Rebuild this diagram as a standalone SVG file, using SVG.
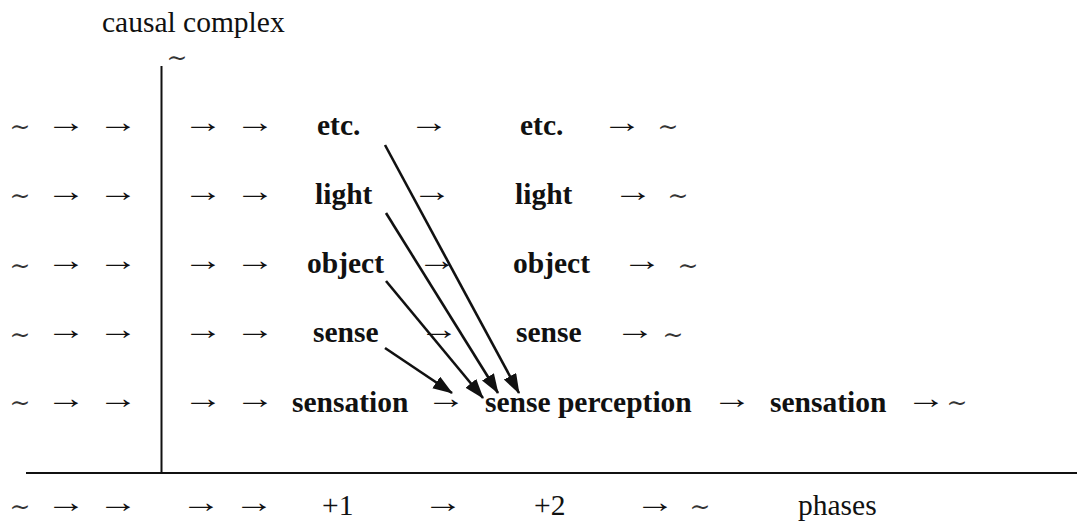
<svg xmlns="http://www.w3.org/2000/svg" width="1077" height="521" viewBox="0 0 1077 521">
<style>
.w{font-family:"Liberation Serif","Times New Roman",serif;font-weight:bold;font-size:29.5px;fill:#111}
.r{font-family:"Liberation Serif","Times New Roman",serif;font-size:29.5px;fill:#111}
.a{font-family:"Liberation Serif","DejaVu Serif",serif;font-size:29.5px;fill:#111;text-anchor:middle}
.t{font-family:"DejaVu Serif",serif;font-size:25px;fill:#333;text-anchor:middle}
.ln{stroke:#111;stroke-width:2;fill:none}
.c{stroke:#111;stroke-width:2.6;fill:none;marker-end:url(#ah)}
</style>
<defs>
<marker id="ah" markerUnits="userSpaceOnUse" markerWidth="22" markerHeight="16" refX="19" refY="7" orient="auto">
<path d="M0,0 L20,7 L0,14 z" fill="#111"/>
</marker>
</defs>
<g id="frame">
<line class="ln" x1="161.5" y1="66" x2="161.5" y2="473"/>
<line class="ln" x1="26" y1="473" x2="1077" y2="473"/>
<text class="r" x="102" y="32">causal complex</text>
<text class="t" x="177" y="66">∼</text>
</g>
<g id="row-etc">
<text class="t" x="20" y="135">∼</text>
<text class="a" x="66" y="132" textLength="40" lengthAdjust="spacingAndGlyphs">→</text>
<text class="a" x="118" y="132" textLength="40" lengthAdjust="spacingAndGlyphs">→</text>
<text class="a" x="203" y="132" textLength="40" lengthAdjust="spacingAndGlyphs">→</text>
<text class="a" x="255" y="132" textLength="40" lengthAdjust="spacingAndGlyphs">→</text>
<text class="w" x="317" y="135">etc.</text>
<text class="a" x="429" y="132" textLength="40" lengthAdjust="spacingAndGlyphs">→</text>
<text class="w" x="520" y="135">etc.</text>
<text class="a" x="622" y="132" textLength="40" lengthAdjust="spacingAndGlyphs">→</text>
<text class="t" x="668" y="135">∼</text>
</g>
<g id="row-light">
<text class="t" x="20" y="204">∼</text>
<text class="a" x="66" y="201" textLength="40" lengthAdjust="spacingAndGlyphs">→</text>
<text class="a" x="118" y="201" textLength="40" lengthAdjust="spacingAndGlyphs">→</text>
<text class="a" x="203" y="201" textLength="40" lengthAdjust="spacingAndGlyphs">→</text>
<text class="a" x="255" y="201" textLength="40" lengthAdjust="spacingAndGlyphs">→</text>
<text class="w" x="315" y="204">light</text>
<text class="a" x="432" y="201" textLength="40" lengthAdjust="spacingAndGlyphs">→</text>
<text class="w" x="515" y="204">light</text>
<text class="a" x="633" y="201" textLength="40" lengthAdjust="spacingAndGlyphs">→</text>
<text class="t" x="678" y="204">∼</text>
</g>
<g id="row-object">
<text class="t" x="20" y="274">∼</text>
<text class="a" x="66" y="270" textLength="40" lengthAdjust="spacingAndGlyphs">→</text>
<text class="a" x="118" y="270" textLength="40" lengthAdjust="spacingAndGlyphs">→</text>
<text class="a" x="203" y="270" textLength="40" lengthAdjust="spacingAndGlyphs">→</text>
<text class="a" x="255" y="270" textLength="40" lengthAdjust="spacingAndGlyphs">→</text>
<text class="w" x="307" y="273">object</text>
<text class="a" x="437" y="270" textLength="40" lengthAdjust="spacingAndGlyphs">→</text>
<text class="w" x="513" y="273">object</text>
<text class="a" x="642" y="270" textLength="40" lengthAdjust="spacingAndGlyphs">→</text>
<text class="t" x="688" y="274">∼</text>
</g>
<g id="row-sense">
<text class="t" x="20" y="343">∼</text>
<text class="a" x="66" y="339" textLength="40" lengthAdjust="spacingAndGlyphs">→</text>
<text class="a" x="118" y="339" textLength="40" lengthAdjust="spacingAndGlyphs">→</text>
<text class="a" x="203" y="339" textLength="40" lengthAdjust="spacingAndGlyphs">→</text>
<text class="a" x="255" y="339" textLength="40" lengthAdjust="spacingAndGlyphs">→</text>
<text class="w" x="313" y="342">sense</text>
<text class="a" x="439" y="339" textLength="40" lengthAdjust="spacingAndGlyphs">→</text>
<text class="w" x="516" y="342">sense</text>
<text class="a" x="635" y="339" textLength="40" lengthAdjust="spacingAndGlyphs">→</text>
<text class="t" x="673" y="343">∼</text>
</g>
<g id="row-sensation">
<text class="t" x="20" y="411">∼</text>
<text class="a" x="66" y="408" textLength="40" lengthAdjust="spacingAndGlyphs">→</text>
<text class="a" x="118" y="408" textLength="40" lengthAdjust="spacingAndGlyphs">→</text>
<text class="a" x="203" y="408" textLength="40" lengthAdjust="spacingAndGlyphs">→</text>
<text class="a" x="255" y="408" textLength="40" lengthAdjust="spacingAndGlyphs">→</text>
<text class="w" x="292" y="412">sensation</text>
<text class="a" x="446" y="408" textLength="40" lengthAdjust="spacingAndGlyphs">→</text>
<text class="w" x="485" y="412">sense perception</text>
<text class="a" x="732" y="408" textLength="40" lengthAdjust="spacingAndGlyphs">→</text>
<text class="w" x="770" y="412">sensation</text>
<text class="a" x="926" y="408" textLength="40" lengthAdjust="spacingAndGlyphs">→</text>
<text class="t" x="957" y="411">∼</text>
</g>
<g id="phases">
<text class="t" x="20" y="515">∼</text>
<text class="a" x="66" y="512" textLength="40" lengthAdjust="spacingAndGlyphs">→</text>
<text class="a" x="118" y="512" textLength="40" lengthAdjust="spacingAndGlyphs">→</text>
<text class="a" x="201" y="512" textLength="40" lengthAdjust="spacingAndGlyphs">→</text>
<text class="a" x="254" y="512" textLength="40" lengthAdjust="spacingAndGlyphs">→</text>
<text class="r" x="322" y="515">+1</text>
<text class="a" x="443" y="512" textLength="40" lengthAdjust="spacingAndGlyphs">→</text>
<text class="r" x="534" y="515">+2</text>
<text class="a" x="655" y="512" textLength="40" lengthAdjust="spacingAndGlyphs">→</text>
<text class="t" x="700" y="515">∼</text>
<text class="r" x="798" y="515">phases</text>
</g>
<g id="connectors">
<line class="c" x1="385" y1="145" x2="519" y2="393"/>
<line class="c" x1="386" y1="213" x2="498" y2="393"/>
<line class="c" x1="386" y1="281" x2="483" y2="398"/>
<line class="c" x1="385" y1="348" x2="452" y2="393"/>
</g>
</svg>
